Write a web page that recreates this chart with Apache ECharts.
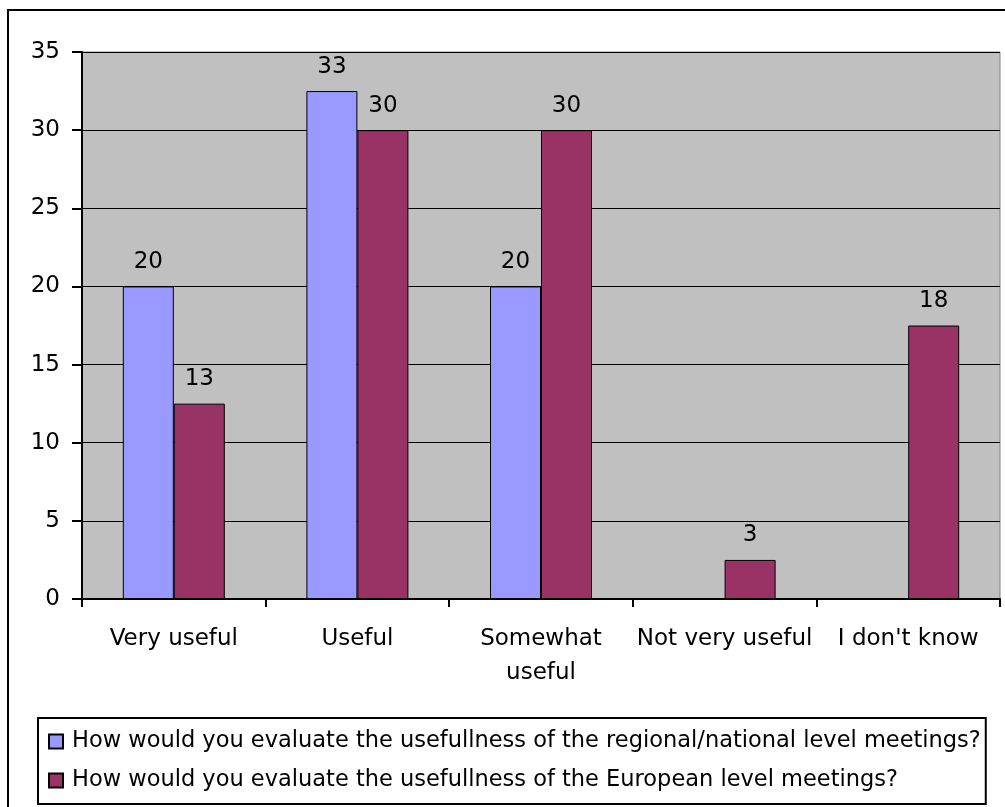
<!DOCTYPE html>
<html>
<head>
<meta charset="utf-8">
<script src="https://cdn.jsdelivr.net/npm/echarts@6/dist/echarts.min.js"></script>
<style>
  html, body { margin: 0; padding: 0; background: #fff; }
  #main { width: 1005px; height: 807px; }
</style>
</head>
<body>
<div id="main"></div>
<script>
// answers (percent) per category
const categories = ['Very useful', 'Useful', 'Somewhat\nuseful', 'Not very useful', "I don't know"]
const regionalVals = [20, 32.5, 20, 0, 0]
const europeanVals = [12.5, 30, 30, 2.5, 17.5]
const seriesNames = [
  'How would you evaluate the usefullness of the regional/national level meetings?',
  'How would you evaluate the usefullness of the European level meetings?'
]
const FONT = '"DejaVu Sans", Arial, sans-serif'
const FS = 23

const barLabel = {
  show: true,
  position: 'top',
  distance: 13,
  color: '#000',
  fontSize: FS,
  fontFamily: FONT,
  formatter: p => (p.value ? Math.round(p.value) : '')
}

const chart = echarts.init(document.getElementById('main'))
chart.setOption({
  animation: false,
  textStyle: { fontFamily: FONT },
  graphic: [{
    type: 'rect',
    shape: { x: 8, y: 10, width: 1100, height: 900 },
    style: { fill: 'none', stroke: '#000', lineWidth: 2 },
    silent: true
  }],
  grid: {
    left: 82,
    top: 52,
    right: 5,
    bottom: 208,
    show: true,
    backgroundColor: '#C0C0C0',
    borderColor: '#808080',
    borderWidth: 1
  },
  legend: {
    orient: 'vertical',
    left: 38,
    top: 718,
    padding: [12, 5, 12, 10],
    itemGap: 16,
    itemWidth: 14,
    itemHeight: 14,
    icon: 'rect',
    borderColor: '#000',
    borderWidth: 2,
    textStyle: { fontSize: 22.5, color: '#000', fontFamily: FONT, padding: [0, 0, 0, 4] },
    data: seriesNames
  },
  xAxis: {
    type: 'category',
    data: categories,
    axisLine: { lineStyle: { color: '#000', width: 2 } },
    axisTick: { show: true, length: 8, lineStyle: { color: '#000', width: 2 } },
    axisLabel: {
      interval: 0,
      margin: 23,
      color: '#000',
      fontSize: FS,
      lineHeight: 34,
      fontFamily: FONT
    }
  },
  yAxis: {
    type: 'value',
    min: 0,
    max: 35,
    interval: 5,
    axisLine: { show: true, lineStyle: { color: '#000', width: 2 } },
    axisTick: { show: true, length: 10, lineStyle: { color: '#000', width: 2 } },
    axisLabel: { margin: 22, color: '#000', fontSize: FS, fontFamily: FONT },
    splitLine: { lineStyle: { color: '#000', width: 1 } }
  },
  series: [
    {
      name: seriesNames[0],
      type: 'bar',
      barWidth: 51,
      barGap: '0%',
      itemStyle: { color: '#9999FF', borderColor: '#000', borderWidth: 1 },
      label: barLabel,
      data: regionalVals
    },
    {
      name: seriesNames[1],
      type: 'bar',
      barWidth: 51,
      barGap: '0%',
      itemStyle: { color: '#993366', borderColor: '#000', borderWidth: 1 },
      label: barLabel,
      data: europeanVals
    }
  ]
})
</script>
</body>
</html>
